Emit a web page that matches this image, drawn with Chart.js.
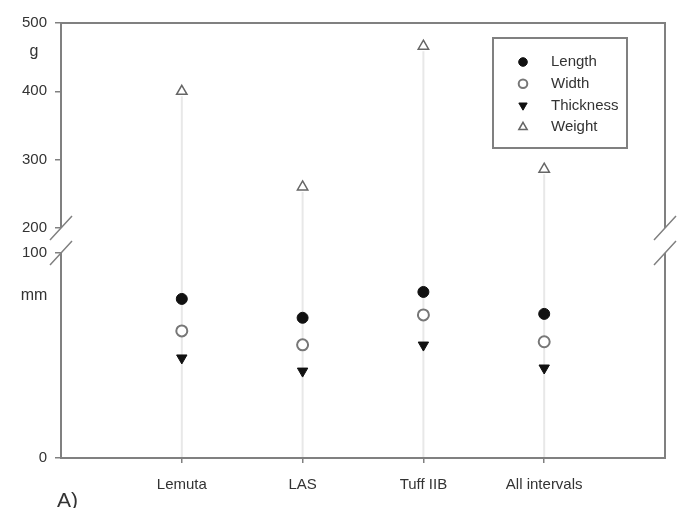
<!DOCTYPE html>
<html>
<head>
<meta charset="utf-8">
<script src="https://cdn.jsdelivr.net/npm/chart.js@4.4.0/dist/chart.umd.min.js"></script>
<style>
  html, body { margin: 0; padding: 0; background: #fff; }
  #wrap { width: 678px; height: 508px; }
</style>
</head>
<body>
<div id="wrap"><canvas id="c" width="678" height="508"></canvas></div>
<script>
// Sample groups and mean dimensions
const categories = ['Lemuta', 'LAS', 'Tuff IIB', 'All intervals'];
const lengthMm = [77.6, 68.4, 81.0, 70.3];
const widthMm = [62.0, 55.2, 69.8, 56.7];
const thicknessMm = [48.8, 42.4, 55.1, 43.9];
const weightG = [400, 260, 466, 286];
const gTicks = [200, 300, 400, 500];
const mmTicks = [0, 100];

const FONT = "'Liberation Sans', Arial, sans-serif";
const TEXT = '#333';
const LINE = '#808080';

const pts = arr => arr.map((v, i) => ({ x: i + 1, y: v }));

const seriesStyles = [
  { label: 'Length', data: pts(lengthMm), yAxisID: 'mm', pointStyle: 'circle', pointRadius: 5.5,
    backgroundColor: '#111', borderColor: '#111', pointBorderWidth: 1, rotation: 0 },
  { label: 'Width', data: pts(widthMm), yAxisID: 'mm', pointStyle: 'circle', pointRadius: 5.5,
    backgroundColor: '#fff', borderColor: '#777', pointBorderWidth: 2, rotation: 0 },
  { label: 'Thickness', data: pts(thicknessMm), yAxisID: 'mm', pointStyle: 'triangle', pointRadius: 6,
    backgroundColor: '#111', borderColor: '#111', pointBorderWidth: 1, rotation: 180 },
  { label: 'Weight', data: pts(weightG), yAxisID: 'g', pointStyle: 'triangle', pointRadius: 6,
    backgroundColor: '#fff', borderColor: '#666', pointBorderWidth: 1.5, rotation: 0 }
];

const datasets = seriesStyles.map(s => ({
  label: s.label,
  data: s.data,
  yAxisID: s.yAxisID,
  showLine: false,
  pointStyle: s.pointStyle,
  pointRadius: s.pointRadius,
  pointRotation: s.rotation,
  pointBackgroundColor: s.backgroundColor,
  pointBorderColor: s.borderColor,
  pointBorderWidth: s.pointBorderWidth,
  backgroundColor: s.backgroundColor,
  borderColor: s.borderColor
}));

// Frame with broken axis, drop lines, legend and unit labels
const decorPlugin = {
  id: 'decor',
  beforeDatasetsDraw(chart) {
    const { ctx, chartArea: a, scales } = chart;
    ctx.save();
    ctx.strokeStyle = '#e8e8e8';
    ctx.lineWidth = 2;
    weightG.forEach((w, i) => {
      const x = scales.x.getPixelForValue(i + 1);
      ctx.beginPath();
      ctx.moveTo(x, scales.g.getPixelForValue(w) + 5);
      ctx.lineTo(x, a.bottom);
      ctx.stroke();
    });
    ctx.restore();
  },
  afterDraw(chart) {
    const { ctx, chartArea: a, scales } = chart;
    const yBreakTop = scales.g.getPixelForValue(gTicks[0]);
    const yBreakBot = scales.mm.getPixelForValue(mmTicks[mmTicks.length - 1]);
    ctx.save();
    ctx.strokeStyle = LINE;
    ctx.lineWidth = 2;
    ctx.lineCap = 'butt';
    ctx.beginPath();
    ctx.moveTo(a.left, a.top); ctx.lineTo(a.right, a.top);
    ctx.moveTo(a.left, a.bottom); ctx.lineTo(a.right, a.bottom);
    [a.left, a.right].forEach(x => {
      ctx.moveTo(x, a.top - 1); ctx.lineTo(x, yBreakTop);
      ctx.moveTo(x, yBreakBot); ctx.lineTo(x, a.bottom + 1);
    });
    ctx.stroke();

    // break marks
    ctx.lineWidth = 1.5;
    ctx.beginPath();
    [yBreakTop, yBreakBot].forEach(y => {
      [a.left, a.right].forEach(x => {
        ctx.moveTo(x - 11, y + 12);
        ctx.lineTo(x + 11, y - 12);
      });
    });
    ctx.stroke();

    // legend
    const lx = a.right - 172, ly = a.top + 15, lw = 134, lh = 110;
    ctx.lineWidth = 2;
    ctx.strokeStyle = LINE;
    ctx.strokeRect(lx, ly, lw, lh);
    ctx.font = '15px ' + FONT;
    ctx.textBaseline = 'middle';
    ctx.textAlign = 'left';
    seriesStyles.forEach((s, i) => {
      const cy = ly + 24 + i * 21.7;
      const cx = lx + 30;
      ctx.fillStyle = s.backgroundColor;
      ctx.strokeStyle = s.borderColor;
      ctx.lineWidth = s.pointBorderWidth;
      Chart.helpers.drawPoint(ctx, {
        pointStyle: s.pointStyle, radius: s.pointRadius - 1.2, rotation: s.rotation,
        borderWidth: s.pointBorderWidth
      }, cx, cy);
      ctx.fillStyle = TEXT;
      ctx.fillText(s.label, lx + 58, cy);
    });

    // unit labels and panel letter
    ctx.fillStyle = TEXT;
    ctx.font = '16px ' + FONT;
    ctx.textAlign = 'center';
    ctx.textBaseline = 'alphabetic';
    ctx.fillText('g', 34, 56);
    ctx.fillText('mm', 34, 300);
    ctx.font = '21px ' + FONT;
    ctx.textAlign = 'left';
    ctx.fillText('A)', 57, 507);
    ctx.restore();
  }
};

new Chart(document.getElementById('c'), {
  type: 'scatter',
  data: { datasets },
  options: {
    responsive: false,
    animation: false,
    events: [],
    layout: { padding: { top: 23, right: 13, left: 0, bottom: 0 } },
    plugins: { legend: { display: false }, tooltip: { enabled: false } },
    scales: {
      x: {
        type: 'linear', min: 0, max: 5,
        afterBuildTicks: s => { s.ticks = categories.map((_, i) => ({ value: i + 1 })); },
        ticks: { callback: v => categories[v - 1], font: { size: 15, family: FONT }, color: TEXT,
                 padding: 13, maxRotation: 0, autoSkip: false },
        grid: { drawOnChartArea: false, tickLength: 5, color: LINE, lineWidth: 1.5 },
        border: { display: false },
        afterFit: s => { s.height = 50; }
      },
      mm: {
        type: 'linear', position: 'left', stack: 'left', stackWeight: 1,
        min: 0, max: 106.1,
        afterBuildTicks: s => { s.ticks = mmTicks.map(v => ({ value: v })); },
        ticks: { font: { size: 15, family: FONT }, color: TEXT, padding: 8 },
        grid: { drawOnChartArea: false, tickLength: 6, color: LINE, lineWidth: 1.5 },
        border: { display: false },
        afterFit: s => { s.width = 61; }
      },
      g: {
        type: 'linear', position: 'left', stack: 'left', stackWeight: 1,
        min: 181.7, max: 500,
        afterBuildTicks: s => { s.ticks = gTicks.map(v => ({ value: v })); },
        ticks: { font: { size: 15, family: FONT }, color: TEXT, padding: 8 },
        grid: { drawOnChartArea: false, tickLength: 6, color: LINE, lineWidth: 1.5 },
        border: { display: false },
        afterFit: s => { s.width = 61; }
      }
    }
  },
  plugins: [decorPlugin]
});
</script>
</body>
</html>
